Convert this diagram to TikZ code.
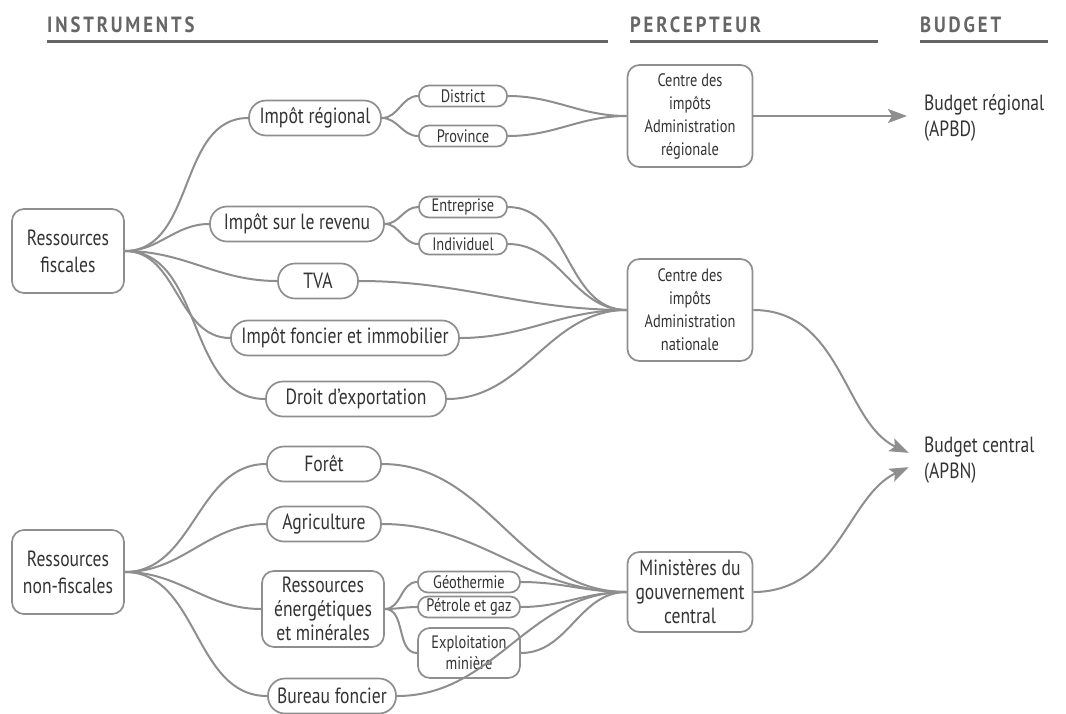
\documentclass[tikz,border=0pt]{standalone}
\usepackage{fontspec}
\setmainfont[FakeStretch=0.8]{PT Sans}
\newfontfamily\headfont[FakeStretch=0.85,LetterSpace=13]{PT Sans}
\usepackage{tikz}
\usetikzlibrary{arrows.meta}
\definecolor{linegray}{HTML}{8E8E8E}
\definecolor{headgray}{HTML}{666666}
\definecolor{textgray}{HTML}{333333}

\begin{document}
\begin{tikzpicture}[x=1pt, y=-1pt,
    box/.style={draw=linegray, line width=1.7pt, rounded corners=12pt, align=center,
        text=textgray, inner sep=0pt, font=\fontsize{22}{27}\selectfont},
    pill/.style={box, rounded corners=17pt, minimum height=35pt},
    tiny/.style={box, rounded corners=10pt, minimum height=21pt, minimum width=88pt,
        font=\fontsize{18}{21}\selectfont},
    office/.style={box, minimum width=125pt, font=\fontsize{18}{23}\selectfont},
    head/.style={anchor=base west, inner sep=0pt, text=headgray, font=\headfont\bfseries\fontsize{22}{24}\selectfont},
    headline/.style={draw=headgray, line width=3pt},
    budget/.style={anchor=west, inner sep=0pt, align=left, text=textgray, font=\fontsize{22}{26}\selectfont},
    link/.style={draw=linegray, line width=2pt},
    flow/.style={link, -{Stealth[length=19pt, width=14pt, inset=4pt]}, shorten >=17pt}]

    \useasboundingbox (0,0) rectangle (1066,713);

    % headings
    \node[head] (hinst) at (47,32) {INSTRUMENTS};
    \node[head] (hperc) at (630,32) {PERCEPTEUR};
    \node[head] (hbud) at (920,32) {BUDGET};
    \draw[headline] (47,41) -- (608,41);
    \draw[headline] (630,41) -- (878,41);
    \draw[headline] (920,41) -- (1048,41);

    % instruments
    \node[box, minimum width=112pt, minimum height=84pt] (fisc) at (68,251) {Ressources\\fiscales};
    \node[box, minimum width=112pt, minimum height=84pt] (nonfisc) at (68,572) {Ressources\\non-fiscales};

    \node[pill, minimum width=132pt] (impreg) at (315,118) {Impôt régional};
    \node[tiny] (district) at (463,96) {District};
    \node[tiny] (province) at (463,136) {Province};

    \node[pill, minimum width=174pt] (imprev) at (297,224) {Impôt sur le revenu};
    \node[tiny] (entreprise) at (463,207) {Entreprise};
    \node[tiny] (individuel) at (463,244) {Individuel};
    \node[pill, minimum width=80pt] (tva) at (318,281) {TVA};
    \node[pill, minimum width=228pt] (impfon) at (345,338) {Impôt foncier et immobilier};
    \node[pill, minimum width=180pt] (droit) at (356,399) {Droit d’exportation};

    \node[pill, minimum width=114pt] (foret) at (324,464) {Forêt};
    \node[pill, minimum width=114pt] (agri) at (324,524) {Agriculture};
    \node[box, minimum width=122pt, minimum height=76pt, font=\fontsize{22}{24}\selectfont] (resen) at (323,609) {Ressources\\énergétiques\\et minérales};
    \node[tiny, minimum width=102pt] (geo) at (469,582) {Géothermie};
    \node[tiny, minimum width=102pt] (petrole) at (469,607) {Pétrole et gaz};
    \node[tiny, minimum width=102pt, minimum height=50pt, rounded corners=12pt] (exploit) at (469,653) {Exploitation\\minière};
    \node[pill, minimum width=128pt] (bureau) at (332,696) {Bureau foncier};

    % percepteurs
    \node[office, minimum height=102pt] (ctreg) at (690,116) {Centre des\\impôts\\Administration\\régionale};
    \node[office, minimum height=102pt] (ctnat) at (690,310) {Centre des\\impôts\\Administration\\nationale};
    \node[office, minimum height=80pt, font=\fontsize{22}{24}\selectfont] (minis) at (690,592) {Ministères du\\gouvernement\\central};

    % budgets
    \node[budget] (budreg) at (924,118) {Budget régional\\(APBD)};
    \node[budget] (budcen) at (924,460) {Budget central\\(APBN)};

    % instruments -> sub-instruments
    \foreach \n in {impreg,imprev,tva,impfon,droit}
        \draw[link] (fisc.east) to[out=0, in=180] (\n.west);
    \foreach \n in {foret,agri,resen,bureau}
        \draw[link] (nonfisc.east) to[out=0, in=180] (\n.west);
    \foreach \n in {district,province}
        \draw[link] (impreg.east) to[out=0, in=180] (\n.west);
    \foreach \n in {entreprise,individuel}
        \draw[link] (imprev.east) to[out=0, in=180] (\n.west);
    \foreach \n in {geo,petrole,exploit}
        \draw[link] (resen.east) to[out=0, in=180] (\n.west);

    % sub-instruments -> percepteurs
    \foreach \n in {district,province}
        \draw[link] (\n.east) to[out=0, in=180] (ctreg.west);
    \foreach \n in {entreprise,individuel,tva,impfon,droit}
        \draw[link] (\n.east) to[out=0, in=180] (ctnat.west);
    \foreach \n in {foret,agri,geo,petrole,exploit,bureau}
        \draw[link] (\n.east) to[out=0, in=180] (minis.west);

    % percepteurs -> budgets
    \draw[flow] (ctreg.east) -- (budreg.west |- ctreg.east);
    \draw[flow] (ctnat.east) to[out=0, in=155] (budcen.west);
    \draw[flow] (minis.east) to[out=0, in=205] (budcen.west);
\end{tikzpicture}
\end{document}
